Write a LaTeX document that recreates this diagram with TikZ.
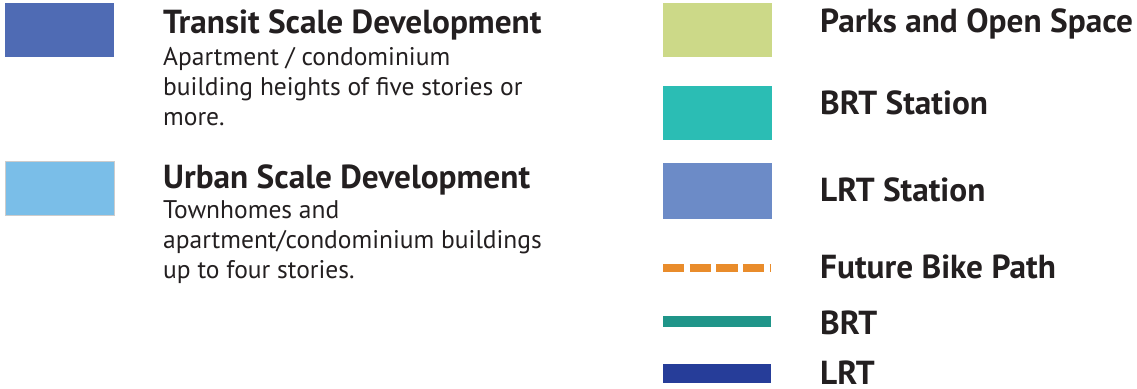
\documentclass[tikz,border=0pt]{standalone}
\usepackage{fontspec}
\setmainfont{PT Sans}
\usetikzlibrary{positioning}

\definecolor{legendtext}{HTML}{231F20}
\definecolor{transit}{HTML}{4F6BB4}
\definecolor{urban}{HTML}{7ABEE8}
\definecolor{parks}{HTML}{CCD988}
\definecolor{brtstation}{HTML}{2BBDB4}
\definecolor{lrtstation}{HTML}{6C8BC7}
\definecolor{bikepath}{HTML}{E98C2B}
\definecolor{brtline}{HTML}{1F9589}
\definecolor{lrtline}{HTML}{263D99}

\begin{document}
\begin{tikzpicture}[x=1pt,y=-1pt,
	swatch/.style={rectangle,inner sep=0pt,anchor=north west,
		minimum width=109pt,minimum height=54pt},
	heading/.style={anchor=base west,inner sep=0pt,text=legendtext,
		font=\bfseries\fontsize{33.3}{36}\selectfont},
	% base of a multi-line node sits on its last line
	blurb/.style={anchor=base west,inner sep=0pt,text=legendtext,align=left,
		font=\fontsize{25.5}{30}\selectfont}]

	\useasboundingbox (0,0) rectangle (1137,388);

	% land use, left column
	\node[swatch,fill=transit] (transit) at (5,3) {};
	\node[heading] (transit-title) at (163,33)
	{Transit Scale Development};
	\node[blurb] (transit-text) at (163,125)
	{Apartment / condominium\\building heights of five stories or\\more.};

	\node[swatch,fill=urban,draw=black!20,line width=0.8pt] (urban) at (5,161) {};
	\node[heading] (urban-title) at (163,188)
	{Urban Scale Development};
	\node[blurb] (urban-text) at (163,278)
	{Townhomes and\\apartment/condominium buildings\\up to four stories.};

	% stations, right column
	\node[swatch,fill=parks] (parks) at (663,3) {};
	\node[heading] (parks-title) at (820,32)
	{Parks and Open Space};

	\node[swatch,fill=brtstation] (brt-stop) at (663,86) {};
	\node[heading] (brt-stop-title) at (820,114)
	{BRT Station};

	\node[swatch,fill=lrtstation,minimum height=56pt] (lrt-stop) at (663,163) {};
	\node[heading] (lrt-stop-title) at (820,201)
	{LRT Station};

	% routes
	\coordinate (bike-w) at (663,268);
	\coordinate (bike-e) at (771,268);
	\draw[bikepath,line width=7.7pt,dash pattern=on 21.33pt off 5.33pt]
	(bike-w)--(bike-e);
	\node[heading] (bike-title) at (820,278)
	{Future Bike Path};

	\coordinate (brt-w) at (663,321.3);
	\coordinate (brt-e) at (771,321.3);
	\draw[brtline,line width=10.7pt]
	(brt-w)--(brt-e);
	\node[heading] (brt-title) at (820,334)
	{BRT};

	\coordinate (lrt-w) at (663,373.3);
	\coordinate (lrt-e) at (771,373.3);
	\draw[lrtline,line width=18.7pt]
	(lrt-w)--(lrt-e);
	\node[heading] (lrt-title) at (820,384)
	{LRT};

\end{tikzpicture}
\end{document}
